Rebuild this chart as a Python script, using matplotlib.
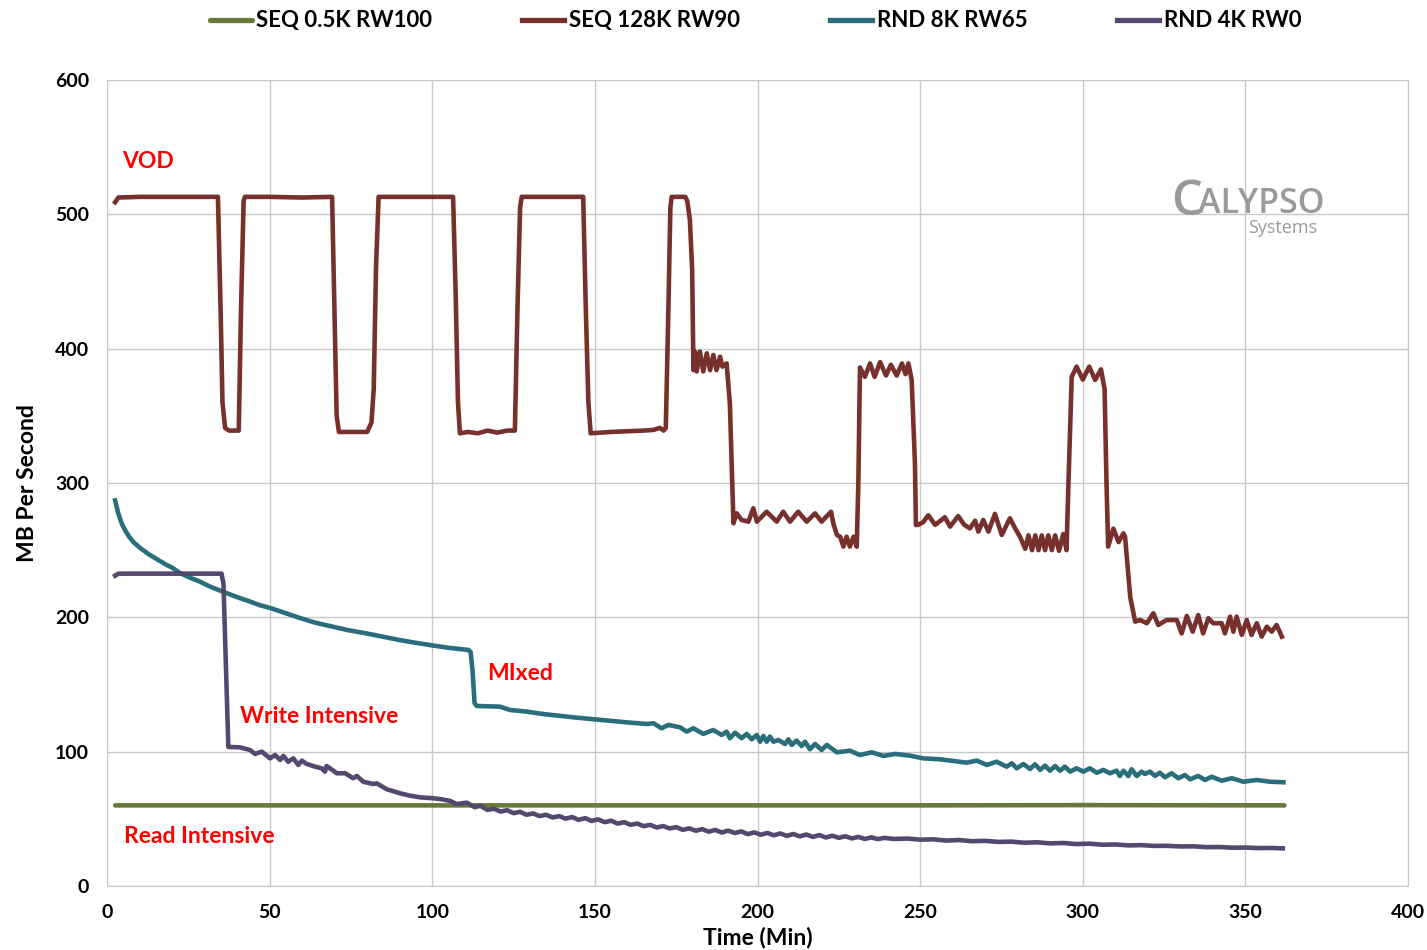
import matplotlib
matplotlib.use('Agg')
import matplotlib.pyplot as plt

plt.rcParams['font.family'] = ['Lato', 'DejaVu Sans']

# SEQ 0.5K RW100 (flat line)
seq05_t = [2.5, 50, 100, 150, 200, 250, 300, 362]
seq05_v = [60, 60, 60, 60, 60, 60, 60.2, 60]

# SEQ 128K RW90
seq128_t = [2.5, 3.5, 10, 20, 30, 34.1, 35.0, 35.5, 36.3, 37.5, 40.5, 41.2, 42.0, 42.4,
            50, 60, 69.2, 69.9, 70.6, 71.3, 76, 80, 81.3, 82.0, 82.7, 83.5,
            90, 100, 106.4, 107.2, 107.9, 108.5, 111, 114, 117, 120, 123, 125.4, 126.2, 127.0, 127.5,
            135, 140, 146.4, 147.2, 148.0, 148.7, 155, 160, 165, 168, 170, 171.1, 171.8, 172.6, 173.2, 173.6,
            177.8, 178.4, 179.2, 179.9, 180.3, 180.8, 181.3, 182.3, 183.3, 184.4, 185.4, 186.4, 187.4,
            188.5, 189.2, 190.5, 191.5, 192.6,
            193.6, 195.1, 197.2, 198.7, 199.8, 202.8, 205.9, 207.9, 210, 212.5, 215.1, 217.7, 219.7, 222.6,
            223.3, 224.4, 225.4, 226.4, 227.4, 228.4, 229.5, 230.5, 231.0, 231.5,
            233, 234.6, 236, 237.7, 239.5, 241, 242.8, 244.4, 245.5, 246.4, 247.4, 248.4, 248.7,
            249.4, 251, 252.5, 254.6, 257.6, 259.2, 261.7, 263.5, 265.3, 266.9, 267.9, 269.4, 271, 273,
            275.1, 277.6, 279.2, 280.7, 282.3, 283.3, 284.4, 285.4, 286.4, 287.4, 288.4, 289.4, 290.5,
            291.5, 292.7, 294, 295, 295.6, 296.6, 298.1, 300, 302, 303.8, 305.6, 306.7, 307.3, 307.8,
            309.4, 311, 312.5, 313, 314.6, 316.1, 317.6, 319.7, 321.7, 323.2, 325.8, 328.9, 330.4, 332,
            333.8, 335.5, 337, 338.6, 340.1, 342.7, 343.7, 345.3, 346.3, 347.3, 348.9, 350.4, 351.9,
            353.5, 355, 356.6, 358.1, 359.6, 361.2]
seq128_v = [509, 512.5, 513, 513, 513, 513, 420, 360, 341, 339, 339, 430, 510, 513,
            513, 512.5, 513, 430, 350, 338, 338, 338, 345, 370, 460, 513,
            513, 513, 513, 440, 360, 337, 338, 337, 339, 337.5, 339, 339, 430, 505, 513,
            513, 513, 513, 430, 360, 337, 338, 338.5, 339, 339.5, 341, 339, 341, 430, 505, 513,
            513, 510, 496, 459, 384, 397.8, 383, 397.8, 383, 396.5, 384, 395.3, 384,
            394, 386.6, 389, 359, 270,
            277.4, 272.5, 271.2, 281.2, 271.2, 278.6, 271.2, 278.6, 271.2, 278.6, 271.2, 277.4, 271.2, 278.6,
            270, 261.3, 260, 252.6, 260, 252.6, 260, 252.6, 300, 386,
            379, 389, 379, 390, 380, 388, 380, 389, 381, 389, 376.7, 314.6, 268.7,
            268.8, 271, 276, 268.8, 274.5, 267.5, 275.4, 269, 266.2, 271.9, 263.8, 272.5, 263.8, 277,
            261.3, 273.7, 266.2, 260, 251, 261, 250, 261, 250, 261, 250, 261, 250,
            261, 249.5, 262, 250, 300, 379, 386.6, 377, 386.6, 376.7, 384.6, 370, 300, 252.6,
            266, 256, 262.5, 260, 215, 196.8, 198, 195.6, 203, 194.3, 198, 198, 188, 201,
            189.3, 201.7, 188, 199.3, 195.6, 195.6, 188, 200.5, 189.3, 200.5, 186.9, 198, 186.9,
            195.6, 185.6, 193, 189.3, 194.3, 185.6]

# RND 8K RW65
rnd8_t = [2.5, 3.5, 4.5, 5.5, 6.8, 8.1, 10.5, 13.2, 15.5, 18.3, 20, 22.4, 25.5, 28.6, 32, 35.7,
          40, 44, 47, 50.1, 55, 59.3, 64, 69.5, 74, 79.8, 85, 90.1, 93.7, 95, 100.2, 105, 108, 111.1,
          111.8, 112.4, 113.0, 113.7, 120.8, 123.9, 129, 134.1, 139.3, 144.4, 150.1, 154.6, 159.8,
          165.9, 168, 170.5, 172.6, 176.2, 178.2, 180.3, 183.3, 186.4, 189, 190.5, 191.5, 193.1,
          195.1, 196.7, 198.2, 199.8, 200.8, 201.8, 202.8, 203.8, 204.9, 206.4, 208.5, 209.5, 210.5,
          212, 213.6, 214.6, 216.1, 217.7, 219.7, 221.3, 224.4, 228.4, 231.5, 235.1, 238.7, 242.3,
          246.9, 251, 256.1, 264.3, 267.4, 270.5, 273.5, 276.6, 278.2, 279.7, 281.7, 283.8, 285.3,
          286.9, 288.4, 289.9, 291.5, 293, 294.5, 296.1, 298.1, 300.2, 302.2, 304.3, 306.3, 308.4,
          310.4, 311.4, 312.5, 314, 315, 316.6, 318.1, 319.1, 320.7, 322.2, 323.7, 325.3, 327.3,
          329.4, 331.4, 333, 335.5, 337.6, 339.6, 342.7, 345.8, 349.4, 353.5, 357.6, 361.7]
rnd8_v = [287, 277, 270, 265, 260, 256, 251, 246.4, 243, 239, 237, 233, 229.5, 226.5, 222.5, 219,
          215, 211.7, 209, 207, 203, 199.5, 196, 193, 190.5, 188, 185.5, 183, 181.5, 181, 179, 177.3, 176.5, 175.7,
          174, 160, 136, 134, 133.5, 131, 129.8, 128, 126.6, 125.3, 124, 123, 121.8,
          120.6, 121.1, 117.4, 119.9, 118.1, 114.9, 117.4, 113.2, 116.1, 112.4, 114.9, 110, 114.1,
          110, 113.2, 109.2, 112.4, 107.4, 111.7, 107.4, 111.2, 107.4, 108.7, 105.7, 109.2, 105,
          108.2, 104.2, 107.4, 101.8, 105.7, 101.2, 105, 99.5, 100.7, 97.5, 99.5, 96.8, 98.3,
          97, 95, 94.3, 91.8, 93.3, 90.1, 92.5, 88.8, 91.3, 87.6, 90.8, 87.1, 90.6,
          86.4, 89.6, 85.8, 89.3, 85.8, 88.8, 85.1, 87.6, 85.1, 87.6, 84.3, 86.4, 83.9,
          85.8, 81.9, 85.8, 81.9, 86.9, 81.9, 85.1, 83.4, 85.1, 81.9, 84.3, 80.9, 83.9,
          80.2, 82.6, 79.4, 81.9, 78.9, 81.3, 78.4, 80.2, 77.6, 78.9, 77.6, 77.2]

# RND 4K RW0
rnd4_t = [2.5, 3.5, 20, 35.2, 35.8, 36.6, 37.3, 40.9, 44, 45.5, 47.6, 50.1, 51.7, 53.2, 54.2, 55.7,
          57.3, 58.8, 59.9, 61.4, 64, 66, 67, 67.5, 69.6, 70.6, 73.2, 75.7, 76.8, 78.8, 81.9, 82.9,
          86, 88, 90.1, 93, 96.2, 100.3, 103, 105.5, 107.5, 110.6, 113.1, 114.7,
          117, 119, 121, 123, 125, 127, 129, 131, 133, 135, 137, 139, 141, 143, 145, 147, 149,
          151, 153, 155, 157, 159, 161, 163, 165, 167, 169, 171, 173, 175, 177, 179, 181, 183, 185,
          187, 189, 191, 193, 195, 197, 199, 201, 203, 205, 207, 209, 211, 213, 215, 217, 219, 221,
          223, 225, 227, 229, 231, 233, 235, 237, 239, 242, 246, 250, 254, 258, 262, 266, 270, 274,
          278, 282, 286, 290, 294, 298, 302, 306, 310, 314, 318, 322, 326, 330, 334, 338, 342, 346,
          350, 354, 358, 361.5]
rnd4_v = [231, 232.5, 232.5, 232.5, 225, 160, 103.5, 103.2, 101.2, 98.3, 100, 95, 97.5, 93.8, 96.8, 92.5,
          95, 90.1, 93.3, 90.8, 88.8, 87.6, 85.1, 89.3, 85.8, 83.9, 83.9, 80.2, 81.9, 77.6, 75.9, 76.4,
          72, 70.5, 69, 67.3, 66, 65.3, 64.5, 63.3, 61, 62, 58.6, 59.8,
          56.6, 57.5, 55.4, 56.4, 54.2, 55.2, 53.0, 54.0, 52.0, 53.0, 51.0, 52.0, 50.1, 51.3, 49.2, 50.5, 48.4,
          49.6, 47.5, 48.6, 46.4, 47.5, 45.5, 46.5, 44.5, 45.5, 43.5, 44.6, 42.8, 43.8, 41.8, 42.9, 41.1, 42.3, 40.4,
          41.7, 39.8, 41.2, 39.4, 40.6, 38.6, 39.9, 38.1, 39.5, 37.7, 39.1, 37.3, 38.7, 36.9, 38.3, 36.5, 37.9, 36.1,
          37.4, 35.8, 37.0, 35.4, 36.5, 35.0, 36.2, 34.9, 35.8, 35.0, 35.3, 34.5, 34.7, 33.8, 34.2, 33.3, 33.6, 32.8,
          33.0, 32.2, 32.5, 31.7, 32.0, 31.2, 31.5, 30.7, 30.9, 30.2, 30.4, 29.8, 29.9, 29.4, 29.5, 28.9, 29.0, 28.5,
          28.6, 28.2, 28.3, 28.0]

fig = plt.figure(figsize=(14.27, 9.5), dpi=100)
ax = fig.add_axes([0.075, 0.0674, 0.9117, 0.8484])

lw = 3.3
ax.plot(seq05_t, seq05_v, color='#677A3A', lw=lw, label='SEQ 0.5K RW100', solid_capstyle='round')
ax.plot(seq128_t, seq128_v, color='#78302D', lw=lw, label='SEQ 128K RW90', solid_joinstyle='round')
ax.plot(rnd8_t, rnd8_v, color='#2A6E7C', lw=lw, label='RND 8K RW65', solid_joinstyle='round')
ax.plot(rnd4_t, rnd4_v, color='#55486E', lw=lw, label='RND 4K RW0', solid_joinstyle='round')

ax.set_xlim(0, 400)
ax.set_ylim(0, 600)
ax.set_xticks(range(0, 401, 50))
ax.set_yticks(range(0, 601, 100))
ax.grid(True, color='#C8C8C8', lw=1)
ax.set_axisbelow(True)
for s in ax.spines.values():
    s.set_color('#C8C8C8')
ax.tick_params(length=0, labelsize=14, pad=13)
for lbl in ax.get_xticklabels() + ax.get_yticklabels():
    lbl.set_fontweight('bold')

ax.set_xlabel('Time (Min)', fontsize=16.5, fontweight='bold', labelpad=4)
ax.set_ylabel('MB Per Second', fontsize=16.5, fontweight='bold', labelpad=12)

# red annotations
red = '#FF0000'
ax.text(4.6, 539, 'VOD', color=red, fontsize=16.5, fontweight='bold', va='center')
ax.text(40.9, 126, 'Write Intensive', color=red, fontsize=16.5, fontweight='bold', va='center')
ax.text(116.8, 158, 'MIxed', color=red, fontsize=16.5, fontweight='bold', va='center')
ax.text(5.2, 37, 'Read Intensive', color=red, fontsize=16.5, fontweight='bold', va='center')

# logo
fig.text(0.8205, 0.7737, 'C', color='#9A9A9A', fontsize=35, family='Open Sans',
         fontweight='semibold', va='baseline')
fig.text(0.8395, 0.7758, 'ALYPSO', color='#9A9A9A', fontsize=24.5, family='Open Sans',
         fontweight='semibold', va='baseline')
fig.text(0.923, 0.7547, 'Systems', color='#9A9A9A', fontsize=13, family='Open Sans', va='baseline', ha='right')

leg = fig.legend(loc='center', bbox_to_anchor=(0.5294, 0.978), ncol=4, frameon=False,
                 prop={'size': 16, 'weight': 'bold'}, handlelength=1.9, handletextpad=0.2,
                 columnspacing=4.05)
for h in leg.get_lines():
    h.set_linewidth(3.8)

fig.savefig('out.png', dpi=100)
